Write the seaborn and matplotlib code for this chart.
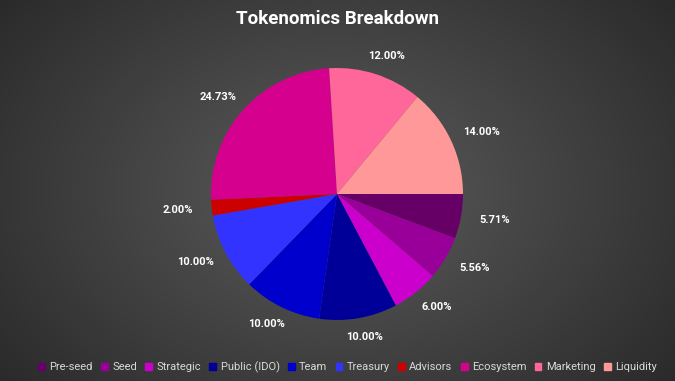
import numpy as np
import matplotlib
matplotlib.use("Agg")
import matplotlib.pyplot as plt
import matplotlib.patches as mpatches
import seaborn as sns

# data
categories = ["Pre-seed", "Seed", "Strategic", "Public (IDO)", "Team",
              "Treasury", "Advisors", "Ecosystem", "Marketing", "Liquidity"]
shares = [5.71, 5.56, 6.00, 10.00, 10.00, 10.00, 2.00, 24.73, 12.00, 14.00]
colors = ["#660066", "#990099", "#CC00CC", "#000099", "#0000CC",
          "#3333FF", "#CC0000", "#D6008F", "#FF6699", "#FF9999"]

sns.set_theme(style="dark")
plt.rcParams["font.family"] = ["Roboto", "DejaVu Sans"]

fig = plt.figure(figsize=(6.75, 3.81), dpi=100)

# radial gray background
bg = fig.add_axes([0, 0, 1, 1])
yy, xx = np.mgrid[0:381, 0:675]
dist = np.sqrt(((xx - 337) / 420.0) ** 2 + ((yy - 190) / 300.0) ** 2)
level = np.clip(0.36 - 0.19 * dist, 0.15, 0.36)
bg.imshow(np.dstack([level] * 3), aspect="auto", extent=[0, 1, 0, 1])
bg.set_axis_off()

# pie
ax = fig.add_axes([211 / 675, 61 / 381, 252 / 675, 252 / 381])
wedges, texts, autotexts = ax.pie(
    shares, colors=colors, startangle=0, counterclock=False,
    autopct="%.2f%%", pctdistance=1.2, radius=1,
    wedgeprops={"linewidth": 0},
    textprops={"color": "white", "fontsize": 8, "fontweight": "bold"},
)

# outside-end style labels: push out by roughly half the text box
for w, t in zip(wedges, autotexts):
    ang = np.deg2rad((w.theta1 + w.theta2) / 2)
    c, s = np.cos(ang), np.sin(ang)
    t.set_position((1.1 * c + 0.17 * c, 1.1 * s + 0.05 * s))

ax.set_xlim(-1, 1)
ax.set_ylim(-1, 1)
ax.set_aspect("equal")
ax.set_axis_off()

fig.text(0.5, 0.95, "Tokenomics Breakdown", ha="center", va="center",
         color="white", fontsize=13.5, fontweight="bold")

handles = [mpatches.Patch(color=c, label=l) for c, l in zip(colors, categories)]
leg = fig.legend(handles=handles, loc="center", bbox_to_anchor=(0.515, 0.037),
                 ncol=10, frameon=False, fontsize=8, handlelength=0.6,
                 handleheight=0.6, handletextpad=0.4, columnspacing=0.75)
for t in leg.get_texts():
    t.set_color("#D9D9D9")

fig.savefig("out.png", dpi=100)
